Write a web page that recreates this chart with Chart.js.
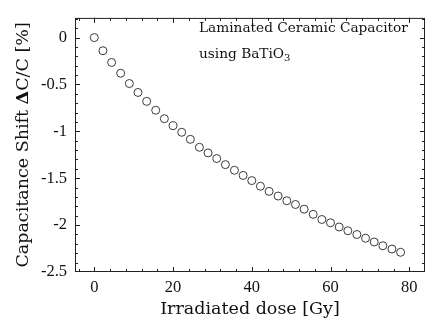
<!DOCTYPE html>
<html>
<head>
<meta charset="utf-8">
<script src="https://cdn.jsdelivr.net/npm/chart.js@4.4.1/dist/chart.umd.min.js"></script>
<style>
  body { margin: 0; background: #fff; }
  #wrap { width: 430px; height: 321px; }
</style>
</head>
<body>
<div id="wrap"><canvas id="chart" width="430" height="321"></canvas></div>
<script>
// irradiated dose [Gy] and capacitance shift [%]
const doses = [0, 2.2, 4.4, 6.7, 8.9, 11.1, 13.3, 15.6, 17.8, 20.0, 22.2, 24.4, 26.7, 28.9, 31.1, 33.3, 35.6, 37.8,
  40.0, 42.2, 44.4, 46.7, 48.9, 51.1, 53.3, 55.6, 57.8, 60.0, 62.2, 64.4, 66.7, 68.9, 71.1, 73.3, 75.6, 77.8];
const shifts = [0, -0.14, -0.265, -0.38, -0.49, -0.585, -0.68, -0.775, -0.865, -0.94, -1.01, -1.085, -1.17, -1.23,
  -1.29, -1.355, -1.415, -1.47, -1.525, -1.585, -1.64, -1.69, -1.74, -1.78, -1.83, -1.885, -1.94, -1.975, -2.02,
  -2.06, -2.10, -2.14, -2.18, -2.22, -2.255, -2.29];
const xTicks = [0, 20, 40, 60, 80];
const yTicks = [0, -0.5, -1, -1.5, -2, -2.5];
const noteLine1 = "Laminated Ceramic Capacitor";
const noteLine2 = "using BaTiO";
const noteSub = "3";

const serif = "'DejaVu Serif', 'Liberation Serif', serif";
const tickFont = "'Liberation Serif', serif";

const framePlugin = {
  id: "frame",
  afterDatasetsDraw(chart) {
    const { ctx, chartArea: a, scales: { x, y } } = chart;
    ctx.save();
    ctx.strokeStyle = "#222";
    ctx.lineWidth = 1;
    ctx.strokeRect(a.left + 0.5, a.top + 0.5, a.right - a.left - 1, a.bottom - a.top - 1);

    ctx.beginPath();
    // x ticks, bottom and top, pointing inward
    for (let v = -4; v <= 84; v += 4) {
      const px = Math.round(x.getPixelForValue(v)) + 0.5;
      if (px <= a.left + 1 || px >= a.right - 1) continue;
      const len = xTicks.includes(v) ? 5 : 3;
      ctx.moveTo(px, a.bottom); ctx.lineTo(px, a.bottom - len);
      ctx.moveTo(px, a.top); ctx.lineTo(px, a.top + len);
    }
    // y ticks, left and right
    for (let i = -25; i <= 2; i++) {
      const v = i / 10;
      const py = Math.round(y.getPixelForValue(v)) + 0.5;
      if (py <= a.top + 1 || py >= a.bottom - 1) continue;
      const len = i % 5 === 0 ? 5 : 3;
      ctx.moveTo(a.left, py); ctx.lineTo(a.left + len, py);
      ctx.moveTo(a.right, py); ctx.lineTo(a.right - len, py);
    }
    ctx.stroke();

    // note in the top right corner
    ctx.fillStyle = "#111";
    ctx.textBaseline = "alphabetic";
    ctx.textAlign = "left";
    ctx.font = "13.7px " + serif;
    ctx.fillText(noteLine1, 199, 32);
    ctx.fillText(noteLine2, 199, 58);
    const w = ctx.measureText(noteLine2).width;
    ctx.font = "10px " + serif;
    ctx.fillText(noteSub, 199 + w, 61);

    // y axis title with bold delta
    const parts = [
      ["Capacitance Shift ", "17.5px " + serif],
      ["\u0394", "bold 17.5px " + serif],
      ["C/C [%]", "17.5px " + serif]
    ];
    let total = 0;
    parts.forEach(p => { ctx.font = p[1]; total += ctx.measureText(p[0]).width; });
    ctx.translate(28, (a.top + a.bottom) / 2);
    ctx.rotate(-Math.PI / 2);
    let cx = -total / 2;
    parts.forEach(p => {
      ctx.font = p[1];
      ctx.fillText(p[0], cx, 0);
      cx += ctx.measureText(p[0]).width;
    });
    ctx.restore();
  }
};

new Chart(document.getElementById("chart"), {
  type: "scatter",
  data: {
    datasets: [{
      data: doses.map((d, i) => ({ x: d, y: shifts[i] })),
      pointStyle: "circle",
      pointRadius: 4,
      pointBorderWidth: 1,
      pointBorderColor: "#3a3a3a",
      pointBackgroundColor: "rgba(0,0,0,0)",
      showLine: false
    }]
  },
  options: {
    responsive: false,
    animation: false,
    layout: { padding: { top: 6, right: 2, left: 0, bottom: 0 } },
    plugins: { legend: { display: false }, tooltip: { enabled: false } },
    scales: {
      x: {
        type: "linear",
        min: -4.9,
        max: 84,
        afterFit: s => { s.height = 49; },
        grid: { display: false, drawTicks: false },
        border: { display: false },
        ticks: {
          stepSize: 20,
          includeBounds: false,
          padding: 6,
          color: "#111",
          font: { family: tickFont, size: 16.5 },
          callback: v => xTicks.includes(v) ? String(v) : ""
        },
        title: {
          display: true,
          text: "Irradiated dose [Gy]",
          color: "#111",
          font: { family: serif, size: 17.5 },
          padding: { top: 0, bottom: 1 }
        }
      },
      y: {
        type: "linear",
        min: -2.5,
        max: 0.21,
        afterFit: s => { s.width = 75; },
        grid: { display: false, drawTicks: false },
        border: { display: false },
        ticks: {
          stepSize: 0.5,
          includeBounds: false,
          padding: 8,
          color: "#111",
          font: { family: tickFont, size: 16.5 },
          callback: v => yTicks.includes(v) ? String(v) : ""
        }
      }
    }
  },
  plugins: [framePlugin]
});
</script>
</body>
</html>
